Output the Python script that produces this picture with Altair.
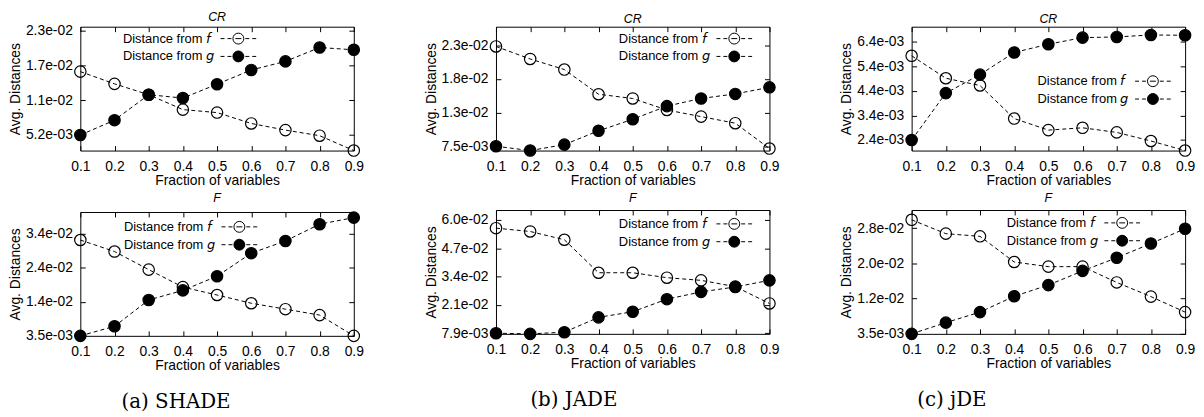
import altair as alt
import pandas as pd

# ---------------- data ----------------
x_frac = [0.1, 0.2, 0.3, 0.4, 0.5, 0.6, 0.7, 0.8, 0.9]
series_names = ["Distance from \U0001D627", "Distance from \U0001D628"]

shade_cr_f = [0.01599, 0.01391, 0.01206, 0.00953, 0.00902, 0.00717, 0.00604, 0.00509, 0.00256]
shade_cr_g = [0.00520, 0.00773, 0.01206, 0.01149, 0.01385, 0.01627, 0.01773, 0.02009, 0.01970]
jade_cr_f = [0.02281, 0.02089, 0.01927, 0.01548, 0.01483, 0.01306, 0.01205, 0.01104, 0.00715]
jade_cr_g = [0.00750, 0.00684, 0.00775, 0.00987, 0.01164, 0.01366, 0.01483, 0.01553, 0.01654]
jde_cr_f = [0.005834, 0.004919, 0.004622, 0.003275, 0.002804, 0.002898, 0.002710, 0.002360, 0.001970]
jde_cr_g = [0.002400, 0.004312, 0.005067, 0.005969, 0.006306, 0.006575, 0.006602, 0.006683, 0.006670]
shade_f_f = [0.03213, 0.02869, 0.02328, 0.01806, 0.01570, 0.01324, 0.01147, 0.00970, 0.00350]
shade_f_g = [0.00350, 0.00635, 0.01422, 0.01708, 0.02131, 0.02820, 0.03184, 0.03685, 0.03882]
jade_f_f = [0.05648, 0.05495, 0.05113, 0.03586, 0.03586, 0.03357, 0.03234, 0.02944, 0.02165]
jade_f_g = [0.00790, 0.00759, 0.00836, 0.01523, 0.01783, 0.02364, 0.02700, 0.02929, 0.03234]
jde_f_f = [0.03002, 0.02680, 0.02618, 0.02021, 0.01913, 0.01913, 0.01546, 0.01216, 0.00856]
jde_f_g = [0.00350, 0.00611, 0.00856, 0.01224, 0.01484, 0.01814, 0.02120, 0.02450, 0.02795]

# y-axis tick values per panel
ticks_shade_cr = [0.0052, 0.0111, 0.0170, 0.0229]
ticks_jade_cr = [0.0075, 0.01267, 0.01784, 0.02301]
ticks_jde_cr = [0.0024, 0.0034, 0.0044, 0.0054, 0.0064]
ticks_shade_f = [0.0035, 0.0137, 0.0239, 0.0341]
ticks_jade_f = [0.0079, 0.0210, 0.0341, 0.0472, 0.0603]
ticks_jde_f = [0.0035, 0.0117, 0.0199, 0.0281]

# y domains per panel
dom_shade_cr = [0.00256, 0.02363]
dom_jade_cr = [0.00684, 0.02584]
dom_jde_cr = [0.00197, 0.00702]
dom_shade_f = [0.0035, 0.0405]
dom_jade_f = [0.00759, 0.06488]
dom_jde_f = [0.0035, 0.0323]

captions = ["(a) SHADE", "(b) JADE", "(c) jDE"]

SANS = "Liberation Sans"
PW, PH = 276, 125
UNIT = 6.0          # px per path unit for symbolSize 144
SHIFT_PX = 123.0    # circle centre to the right of the legend text


def legend_path():
    c = SHIFT_PX / UNIT
    segs = [(-3, -2.333), (-1.833, -1.167), (-0.5, 0.5), (1.167, 1.833), (2.333, 3)]
    p = "".join(f"M{c + a:.3f},0H{c + b:.3f}" for a, b in segs)
    r = 0.917
    p += (f"M{c + r:.3f},0A{r},{r},0,1,1,{c - r:.3f},0"
          f"A{r},{r},0,1,1,{c + r:.3f},0Z")
    return p


LEGEND_PATH = legend_path()


def panel(title, f_vals, g_vals, domain, ticks, cx, cy, toff):
    df = pd.DataFrame({
        "x": x_frac + x_frac,
        "v": f_vals + g_vals,
        "s": [series_names[0]] * len(x_frac) + [series_names[1]] * len(x_frac),
    })
    xs = alt.Scale(domain=[0.1, 0.9], nice=False, zero=False)
    ys = alt.Scale(domain=domain, nice=False, zero=False)
    common = dict(domain=False, grid=False, ticks=True, tickSize=5, offset=-5,
                  tickColor="black", tickWidth=1, labelFlush=False, labelOverlap=False)
    xb = alt.Axis(values=x_frac, format=".1f", title="Fraction of variables",
                  labelPadding=9, titlePadding=0, orient="bottom", **common)
    yl = alt.Axis(values=ticks, labelExpr="replace(format(datum.value, '.1e'), 'e-', 'e-0')",
                  title="Avg. Distances", labelPadding=8, titlePadding=3, orient="left", **common)
    xt = alt.Axis(values=x_frac, labels=False, title=None, orient="top", **common)
    yr = alt.Axis(values=ticks, labels=False, title=None, orient="right", **common)

    base = alt.Chart(df)
    line = base.mark_line(color="black", strokeWidth=1, strokeDash=[4, 3]).encode(
        x=alt.X("x:Q", scale=xs, axis=xb),
        y=alt.Y("v:Q", scale=ys, axis=yl),
        detail="s:N",
    )
    pts = base.mark_point(filled=True, shape="circle", size=132, stroke="black",
                          strokeWidth=1.2, opacity=1).encode(
        x=alt.X("x:Q", scale=xs, axis=xt),
        y=alt.Y("v:Q", scale=ys, axis=yr),
        fill=alt.Fill("s:N", scale=alt.Scale(domain=series_names, range=["transparent", "black"]),
                      legend=alt.Legend(orient="none", legendX=cx - SHIFT_PX - 6, legendY=cy - 6.5,
                                        title=None, symbolType=LEGEND_PATH, symbolSize=144,
                                        symbolStrokeColor="black", symbolStrokeWidth=1,
                                        labelAlign="left", labelOffset=0,
                                        labelFont=SANS, labelFontSize=13, labelColor="black",
                                        padding=0, rowPadding=1, labelLimit=300)),
    )
    return alt.layer(line, pts).resolve_axis(x="independent", y="independent").properties(
        width=PW, height=PH,
        title=alt.TitleParams(title, font=SANS, fontSize=12.5, fontStyle="italic",
                              fontWeight="normal", offset=toff, anchor="middle", color="black"),
    )


def column(top, bottom, cap, dx):
    return alt.vconcat(top, bottom, spacing=3, title=alt.TitleParams(
        cap, orient="bottom", font="DejaVu Serif", fontSize=20, fontWeight="normal",
        offset=19, anchor="middle", frame="bounds", dx=dx, color="black"),
    ).resolve_scale(fill="independent").resolve_legend(fill="independent")


c1 = column(panel("CR", shade_cr_f, shade_cr_g, dom_shade_cr, ticks_shade_cr, 159, 12, 1),
            panel("F", shade_f_f, shade_f_g, dom_shade_f, ticks_shade_f, 160, 15, 5),
            captions[0], -10)
c2 = column(panel("CR", jade_cr_f, jade_cr_g, dom_jade_cr, ticks_jade_cr, 240, 12, 1),
            panel("F", jade_f_f, jade_f_g, dom_jade_f, ticks_jade_f, 240, 14, 5),
            captions[1], -28)
c3 = column(panel("CR", jde_cr_f, jde_cr_g, dom_jde_cr, ticks_jde_cr, 243, 55, 1),
            panel("F", jde_f_f, jde_f_g, dom_jde_f, ticks_jde_f, 212, 13, 5),
            captions[2], -66)

chart = alt.hconcat(c1, c2, c3, spacing=59.5).resolve_scale(fill="independent").resolve_legend(
    fill="independent"
).properties(padding=0).configure_view(stroke="black", strokeWidth=1).configure_axis(
    labelFont=SANS, labelFontSize=14, labelColor="black",
    titleFont=SANS, titleFontSize=14, titleFontWeight="normal", titleColor="black",
)

chart.save("out.html", embed_options={"renderer": "svg", "actions": False})
